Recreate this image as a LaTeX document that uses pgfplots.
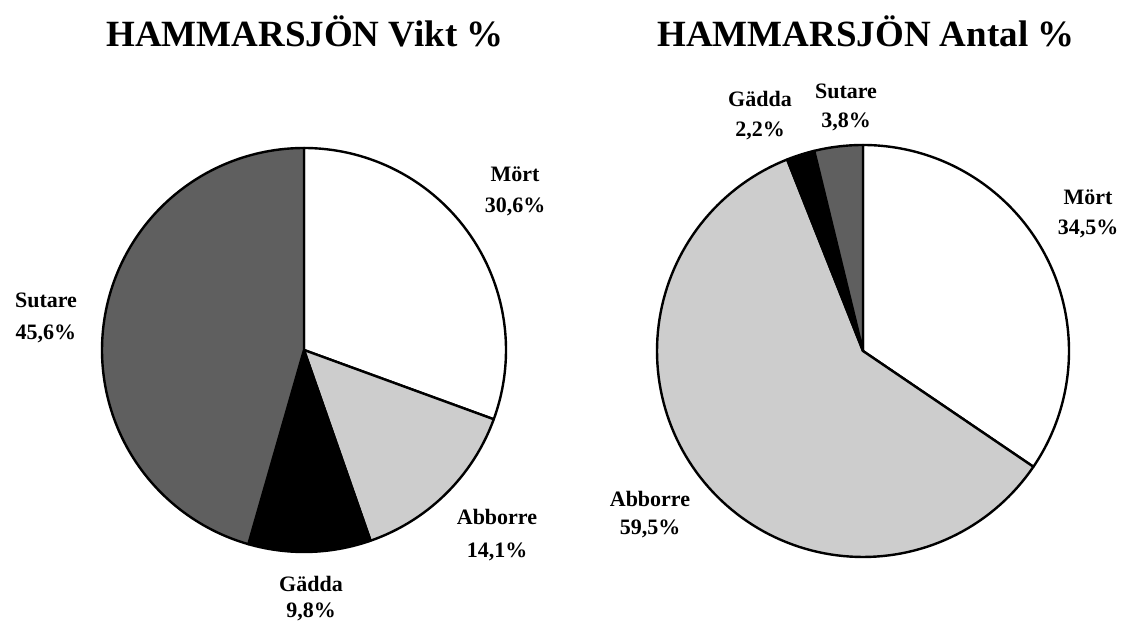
\documentclass[border=0pt]{standalone}
\usepackage{pgfplots}
\pgfplotsset{compat=1.18}
\usepackage{fontspec}
\setmainfont{Liberation Serif}

% slice: cx, cy, r, angle1, angle2, style
\newcommand{\slice}[6]{%
  \addplot[#6, mark=none, domain=#5:#4, samples=120, variable=\t]
    ({#1+#3*cos(\t)},{#2+#3*sin(\t)}) -- (axis cs:#1,#2) -- cycle;}
\newcommand{\lab}[5]{%
  \node[anchor=base] at (axis cs:#1,624-#2) {\fontsize{22}{26}\selectfont\bfseries #3};
  \node[anchor=base] at (axis cs:#1,624-#4) {\fontsize{22}{26}\selectfont\bfseries #5};}

\definecolor{abbgray}{RGB}{205,205,205}
\definecolor{sutgray}{RGB}{95,95,95}
\tikzset{
  edge/.style={draw=black, line width=2.4pt, line join=round},
  mort/.style={fill=white, edge},
  abb/.style={fill=abbgray, edge},
  gad/.style={fill=black, edge},
  sut/.style={fill=sutgray, edge},
}

\begin{document}
\begin{tikzpicture}
% Vikt % (left pie)
\pgfmathsetmacro{\sumL}{30.6+14.1+9.8+45.6}
\pgfmathsetmacro{\La}{90}
\pgfmathsetmacro{\Lb}{\La-30.6/\sumL*360}
\pgfmathsetmacro{\Lc}{\Lb-14.1/\sumL*360}
\pgfmathsetmacro{\Ld}{\Lc-9.8/\sumL*360}
\pgfmathsetmacro{\Le}{\Ld-45.6/\sumL*360}
% Antal % (right pie)
\pgfmathsetmacro{\sumR}{34.5+59.5+2.2+3.8}
\pgfmathsetmacro{\Ra}{90}
\pgfmathsetmacro{\Rb}{\Ra-34.5/\sumR*360}
\pgfmathsetmacro{\Rc}{\Rb-59.5/\sumR*360}
\pgfmathsetmacro{\Rd}{\Rc-2.2/\sumR*360}
\pgfmathsetmacro{\Re}{\Rd-3.8/\sumR*360}
\begin{axis}[
  scale only axis, width=1127pt, height=624pt,
  xmin=0, xmax=1127, ymin=0, ymax=624,
  enlargelimits=false, hide axis, clip=false]
\addplot[draw=none, mark=none] coordinates {(0,0) (1127,624)};

\slice{304}{274}{202}{\La}{\Lb}{mort}
\slice{304}{274}{202}{\Lb}{\Lc}{abb}
\slice{304}{274}{202}{\Lc}{\Ld}{gad}
\slice{304}{274}{202}{\Ld}{\Le}{sut}

\slice{863}{273}{206}{\Ra}{\Rb}{mort}
\slice{863}{273}{206}{\Rb}{\Rc}{abb}
\slice{863}{273}{206}{\Rc}{\Rd}{gad}
\slice{863}{273}{206}{\Rd}{\Re}{sut}

\node[anchor=base] at (axis cs:305,577) {\fontsize{37}{40}\selectfont\bfseries HAMMARSJÖN Vikt \%};
\node[anchor=base] at (axis cs:866,577) {\fontsize{37}{40}\selectfont\bfseries HAMMARSJÖN Antal \%};

\lab{515}{182}{Mört}{213}{30,6\%}
\lab{46}{308}{Sutare}{340}{45,6\%}
\lab{497}{525}{Abborre}{558}{14,1\%}
\lab{311}{592}{Gädda}{618}{9,8\%}

\lab{760}{107}{Gädda}{137}{2,2\%}
\lab{846}{99}{Sutare}{128}{3,8\%}
\lab{1088}{205}{Mört}{235}{34,5\%}
\lab{650}{507}{Abborre}{535}{59,5\%}
\end{axis}
\end{tikzpicture}
\end{document}
